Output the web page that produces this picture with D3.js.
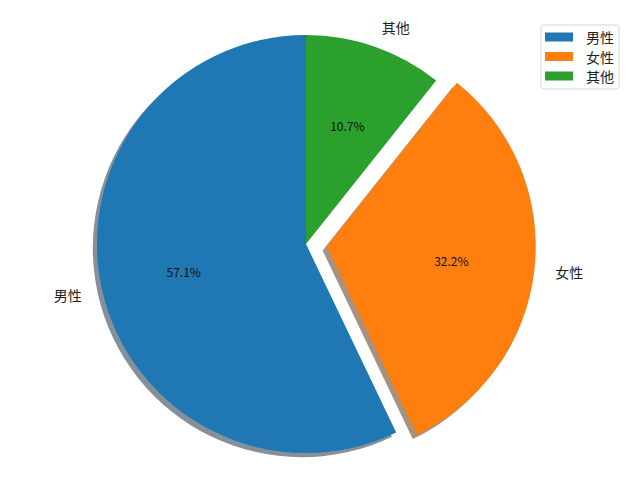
<!DOCTYPE html>
<html>
<head>
<meta charset="utf-8">
<script src="https://cdn.jsdelivr.net/npm/d3@7"></script>
<style>
  body { margin: 0; background: #fff; }
  svg { display: block; font-family: "Noto Sans CJK SC", "DejaVu Sans", sans-serif; }
</style>
</head>
<body>
<div id="chart"></div>
<script>
const categories = ["男性", "女性", "其他"];
const values = [57.1, 32.2, 10.7];
const colors = ["#1f77b4", "#ff7f0e", "#2ca02c"];
const explode = [0, 0.1, 0];

const width = 640;
const height = 482;
const cx = 306;
const cy = 244;
const r = 209;
const shadowOff = 0.02 * r;

const svg = d3.select("#chart").append("svg")
  .attr("width", width)
  .attr("height", height);

// counterclockwise from 12 o'clock, like matplotlib startangle=90
const pie = d3.pie().sort(null).startAngle(0).endAngle(-2 * Math.PI);
const arcs = pie(values).map((a, i) => {
  const mid = (a.startAngle + a.endAngle) / 2;
  return {
    ...a,
    i,
    mid,
    dx: explode[i] * r * Math.sin(mid),
    dy: -explode[i] * r * Math.cos(mid),
  };
});

const arc = d3.arc().innerRadius(0).outerRadius(r);

const g = svg.append("g").attr("transform", `translate(${cx},${cy})`);

// shadows
g.append("g").selectAll("path")
  .data(arcs)
  .join("path")
  .attr("transform", (d) => `translate(${d.dx - shadowOff},${d.dy + shadowOff})`)
  .attr("d", arc)
  .attr("fill", (d) => {
    const c = d3.rgb(colors[d.i]);
    return d3.rgb(c.r * 0.3, c.g * 0.3, c.b * 0.3);
  })
  .attr("opacity", 0.5);

// wedges
g.append("g").selectAll("path")
  .data(arcs)
  .join("path")
  .attr("transform", (d) => `translate(${d.dx},${d.dy})`)
  .attr("d", arc)
  .attr("fill", (d) => colors[d.i]);

// outer labels
g.append("g").selectAll("text")
  .data(arcs)
  .join("text")
  .attr("x", (d) => d.dx + 1.1 * r * Math.sin(d.mid))
  .attr("y", (d) => d.dy - 1.1 * r * Math.cos(d.mid))
  .attr("text-anchor", (d) => (Math.sin(d.mid) < 0 ? "end" : "start"))
  .attr("dominant-baseline", "central")
  .attr("font-size", 14)
  .attr("fill", "#222")
  .text((d) => categories[d.i]);

// percentage labels
g.append("g").selectAll("text")
  .data(arcs)
  .join("text")
  .attr("x", (d) => d.dx + 0.6 * r * Math.sin(d.mid))
  .attr("y", (d) => d.dy - 0.6 * r * Math.cos(d.mid))
  .attr("text-anchor", "middle")
  .attr("dominant-baseline", "central")
  .attr("font-size", 12)
  .attr("fill", "#111")
  .text((d) => d3.format(".1f")(values[d.i]) + "%");

// legend
const legend = svg.append("g").attr("transform", "translate(541,25)");
legend.append("rect")
  .attr("width", 78)
  .attr("height", 64)
  .attr("rx", 3)
  .attr("fill", "#fff")
  .attr("stroke", "#d6d6d6");

const item = legend.selectAll(".item")
  .data(categories)
  .join("g")
  .attr("class", "item")
  .attr("transform", (d, i) => `translate(0,${12 + i * 19.5})`);

item.append("rect")
  .attr("x", 4)
  .attr("y", -4.5)
  .attr("width", 28)
  .attr("height", 9)
  .attr("fill", (d, i) => colors[i]);

item.append("text")
  .attr("x", 45)
  .attr("dominant-baseline", "central")
  .attr("font-size", 14)
  .attr("fill", "#222")
  .text((d) => d);
</script>
</body>
</html>
